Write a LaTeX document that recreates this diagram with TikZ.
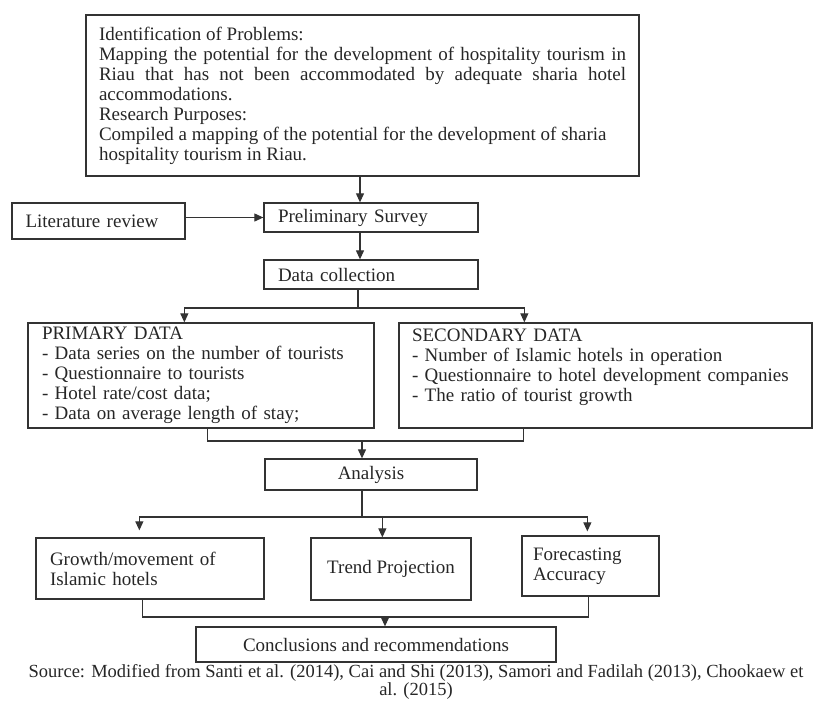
\documentclass[tikz,border=0pt]{standalone}
\usepackage{fontspec}
\setmainfont{Liberation Serif}
\usetikzlibrary{arrows.meta, calc}
\definecolor{myline}{HTML}{333333}
\tikzset{
  box/.style={draw=myline, line width=1.3pt, inner sep=0pt, text=black!85,
              font=\fontsize{19}{20}\selectfont},
  link/.style={myline, line width=1.1pt},
  arr/.style={link, -{Triangle[length=9pt, width=8pt]}},
}

\begin{document}
\begin{tikzpicture}[x=1pt, y=-1pt]
\useasboundingbox (0,0) rectangle (832,702);

\node[box, minimum width=553pt, minimum height=161pt, text width=527pt, align=justify] (prob) at (362.5,95.5)
  {Identification of Problems:\\
   Mapping the potential for the development of hospitality tourism in\linebreak
   Riau that has not been accommodated by adequate sharia hotel\linebreak
   accommodations.\\
   Research Purposes:\\
   Compiled a mapping of the potential for the development of sharia\\
   hospitality tourism in Riau.};
\node[box, minimum width=173pt, minimum height=36pt, text width=146pt, align=left] (lit) at (98.5,221) {Literature review};
\node[box, minimum width=214pt, minimum height=29pt, text width=186pt, align=left] (prel) at (371,217.5) {Preliminary Survey};
\node[box, minimum width=214pt, minimum height=29pt, text width=186pt, align=left] (data) at (371,274.5) {Data collection};
\node[box, minimum width=346pt, minimum height=105pt, text width=318pt, align=left] (prim) at (201,375.5)
  {PRIMARY DATA\\
   - Data series on the number of tourists\\
   - Questionnaire to tourists\\
   - Hotel rate/cost data;\\
   - Data on average length of stay;};
\node[box, minimum width=413pt, minimum height=105pt, text width=387pt, align=left] (sec) at (605.5,375.5)
  {SECONDARY DATA\\
   - Number of Islamic hotels in operation\\
   - Questionnaire to hotel development companies\\
   - The ratio of tourist growth\\
   \mbox{}};
\node[box, minimum width=212pt, minimum height=31pt, align=center] (ana) at (371,474.5) {Analysis};
\node[box, minimum width=228pt, minimum height=61pt, text width=200pt, align=left] (grow) at (150,568.5)
  {Growth/movement of\\ Islamic hotels};
\node[box, minimum width=160pt, minimum height=62pt, align=center] (trend) at (391,569) {Trend Projection};
\node[box, minimum width=137pt, minimum height=60pt, text width=115pt, align=left] (fore) at (590.5,566)
  {Forecasting\\ Accuracy};
\node[box, minimum width=360pt, minimum height=35pt, align=center] (conc) at (376,644.5) {Conclusions and recommendations};
\node[text=black!85, font=\fontsize{18.5}{16}\selectfont, align=center, inner sep=0pt, anchor=north] (src) at (416,664)
  {Source: Modified from Santi et al. (2014), Cai and Shi (2013), Samori and Fadilah (2013), Chookaew et\\ al. (2015)};

\coordinate (spine) at (360,0);
\draw[arr] (spine |- prob.south) -- (spine |- prel.north);
\draw[arr] (lit.east |- prel.west) -- (prel.west);
\draw[arr] (spine |- prel.south) -- (spine |- data.north);

\coordinate (split) at (358,308);
\draw[link] (data.south -| split) -- (split);
\draw[arr] (split) -| ($(prim.north west)+(157,0)$);
\draw[arr] (split) -| ($(sec.north west)+(126,0)$);

\coordinate (merge) at (362,441);
\draw[link] ($(prim.south west)+(180,0)$) |- (merge);
\draw[link] ($(sec.south west)+(125,0)$) |- (merge);
\draw[arr] (merge) -- (merge |- ana.north);

\coordinate (fan) at (362,517);
\draw[link] (ana.south -| fan) -- (fan);
\draw[arr] (fan) -| ($(grow.north west)+(104,-7)$);
\draw[arr] (fan) -| ($(trend.north west)+(72,0)$);
\draw[arr] (fan) -| ($(fore.north west)+(66,-4)$);

\coordinate (join) at (385,617);
\draw[link] ($(grow.south west)+(107,0)$) |- (join);
\draw[link] ($(fore.south west)+(67,0)$) |- (join);
\draw[arr] (join) -- (join |- conc.north);
\end{tikzpicture}
\end{document}
